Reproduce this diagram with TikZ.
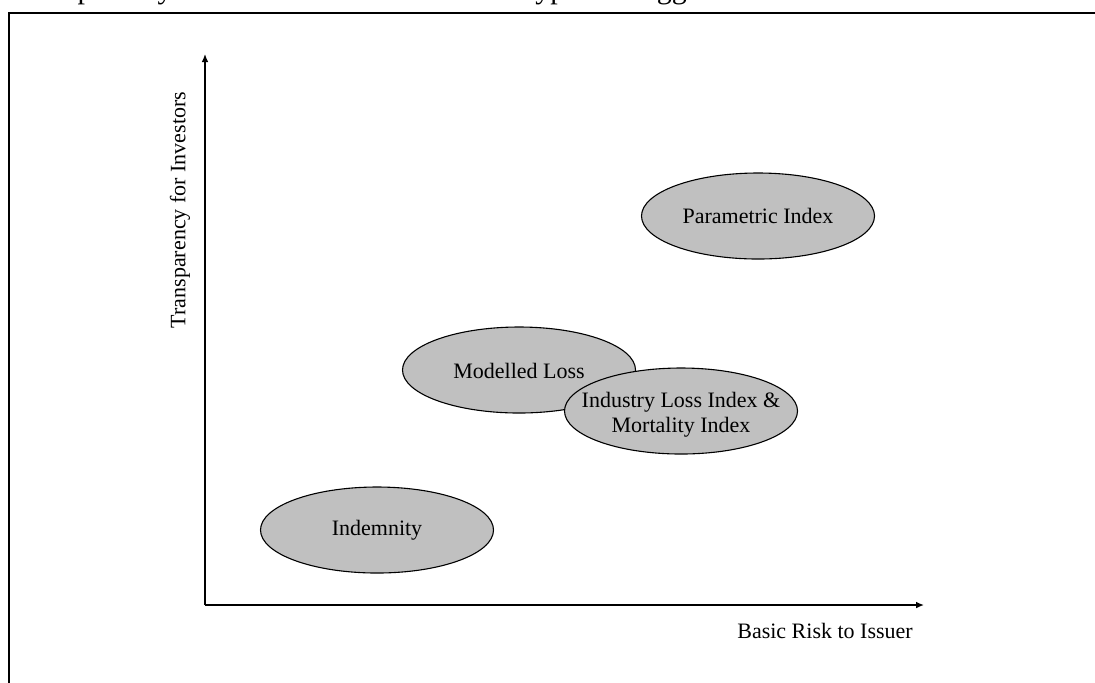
\documentclass[tikz,border=0pt]{standalone}
\usepackage{fontspec}
\setmainfont{Liberation Serif}
\usetikzlibrary{shapes.geometric,arrows.meta}

\tikzset{
  frameline/.style={line width=1pt, line cap=rect},
  axisline/.style={line width=0.7pt, -{Latex[length=4pt,width=3.4pt]}},
  zone/.style={ellipse, draw=black, line width=0.55pt, fill=zonegray,
    minimum width=116.5pt, minimum height=43pt, inner sep=0pt},
  zonetext/.style={font=\fontsize{11pt}{12.6pt}\selectfont, align=center, inner sep=0pt},
  axislabel/.style={font=\fontsize{11pt}{12.6pt}\selectfont, inner sep=0pt},
}
\definecolor{zonegray}{HTML}{C0C0C0}

\begin{document}
\begin{tikzpicture}[x=0.5pt, y=-0.5pt]
  \useasboundingbox (0,0) rectangle (1095,682);
  \clip (0,0) rectangle (1095,682);

  % caption line above the frame (only its lower edge falls inside)
  \node[anchor=base west, inner sep=0pt, font=\fontsize{15pt}{18pt}\selectfont]
    (caption) at (10,-2) {Transparency versus basis risk of different types of trigger};

  % frame
  \coordinate (fbl) at (9,690);
  \coordinate (ftl) at (9,13);
  \coordinate (ftr) at (1100,13);
  \draw[frameline] (fbl) -- (ftl) -- (ftr);

  % axes
  \coordinate (origin) at (205,605);
  \coordinate (ytip) at (205,54);
  \coordinate (xtip) at (924,605);
  \draw[axisline] (origin) -- (ytip);
  \draw[axisline] (origin) -- (xtip);

  \node[axislabel, rotate=90] (ylab) at (180,210) {Transparency for Investors};
  \node[axislabel, anchor=base] (xlab) at (825,638) {Basic Risk to Issuer};

  % trigger types
  \node[zone] (param) at (758,216) {};
  \node[zonetext] (paramtxt) at (param) {Parametric Index};

  \node[zone] (model) at (519,370) {};
  \node[zonetext] (modeltxt) at (519,371) {Modelled Loss};

  \node[zone] (industry) at (681,411) {};
  \node[zonetext] (industrytxt) at (681,415) {Industry Loss Index \&\\Mortality Index};

  \node[zone] (indem) at (377,530) {};
  \node[zonetext] (indemtxt) at (377,530) {Indemnity};
\end{tikzpicture}
\end{document}
